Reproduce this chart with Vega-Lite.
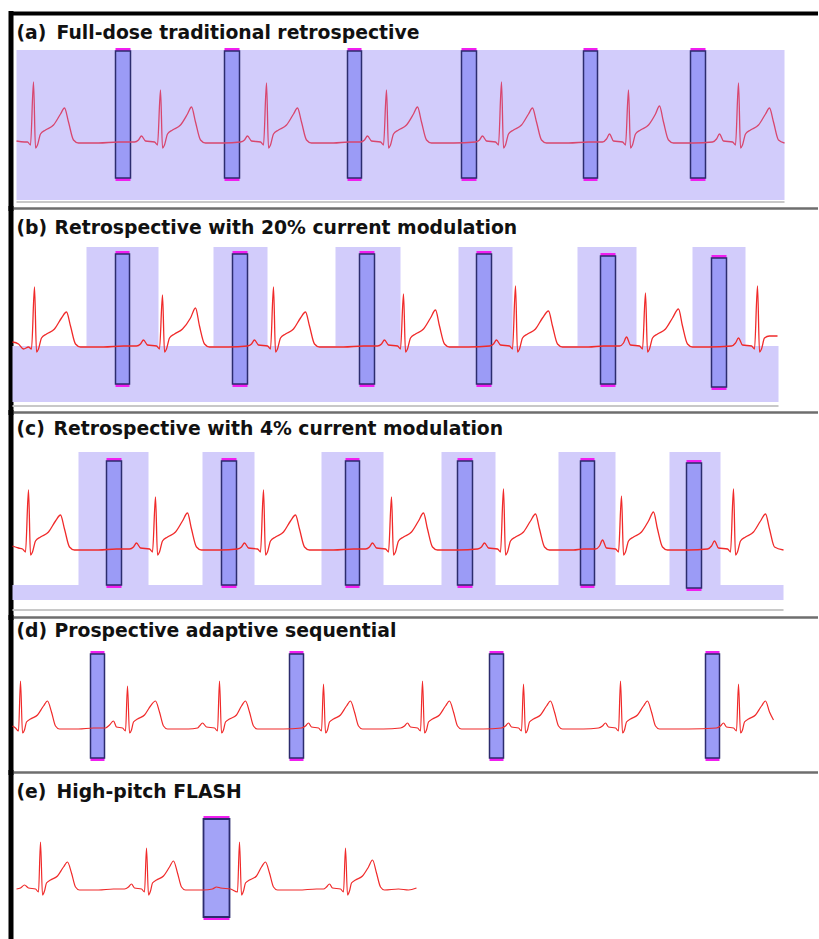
{
"$schema": "https://vega.github.io/schema/vega-lite/v6.json",
"padding": {"left": 9.5, "top": 13, "right": 0, "bottom": 0},
"background": "white",
"spacing": 0,
"bounds": "flush",
"config": {
 "view": {"stroke": null},
 "axis": {"labels": false, "ticks": false, "grid": false, "title": null, "minExtent": 0, "maxExtent": 0, "domainCap": "square"},
 "text": {"font": "DejaVu Sans", "fontWeight": "bold", "fontSize": 18.8, "align": "left", "baseline": "alphabetic", "color": "#111111"}
},
"datasets": {
 "ecgA": [{"t":18,"v":1},{"t":26,"v":0},{"t":29,"v":0},{"t":32,"v":-3},{"t":35,"v":60},{"t":37,"v":-6},{"t":39,"v":-3},{"t":42,"v":8},{"t":47,"v":12},{"t":55,"v":17},{"t":62,"v":28},{"t":66,"v":34},{"t":70,"v":20},{"t":75,"v":2},{"t":80,"v":-1},{"t":100,"v":-1},{"t":120,"v":0},
  {"t":136,"v":0},{"t":140,"v":2},{"t":143,"v":6},{"t":147,"v":1},{"t":156,"v":0},{"t":159,"v":-3},{"t":162,"v":52},{"t":164,"v":-6},{"t":166,"v":-3},{"t":169,"v":8},{"t":174,"v":12},{"t":182,"v":17},{"t":189,"v":28},{"t":193,"v":35},{"t":197,"v":20},{"t":202,"v":2},{"t":207,"v":-1},{"t":225,"v":-1},
  {"t":242,"v":0},{"t":246,"v":2},{"t":249,"v":6},{"t":253,"v":1},{"t":262,"v":0},{"t":265,"v":-3},{"t":268,"v":59},{"t":270,"v":-6},{"t":272,"v":-3},{"t":275,"v":8},{"t":280,"v":12},{"t":288,"v":17},{"t":295,"v":28},{"t":299,"v":34},{"t":303,"v":20},{"t":308,"v":2},{"t":313,"v":-1},{"t":335,"v":-1},{"t":350,"v":0},
  {"t":362,"v":0},{"t":366,"v":2},{"t":369,"v":6},{"t":373,"v":1},{"t":382,"v":0},{"t":385,"v":-3},{"t":388,"v":52},{"t":390,"v":-6},{"t":392,"v":-3},{"t":395,"v":8},{"t":400,"v":12},{"t":408,"v":17},{"t":415,"v":28},{"t":419,"v":35},{"t":423,"v":20},{"t":428,"v":2},{"t":433,"v":-1},{"t":455,"v":-1},
  {"t":477,"v":0},{"t":481,"v":2},{"t":484,"v":6},{"t":488,"v":1},{"t":497,"v":0},{"t":500,"v":-3},{"t":503,"v":60},{"t":505,"v":-6},{"t":507,"v":-3},{"t":510,"v":8},{"t":515,"v":12},{"t":523,"v":17},{"t":530,"v":28},{"t":534,"v":34},{"t":538,"v":20},{"t":543,"v":2},{"t":548,"v":-1},{"t":570,"v":-1},{"t":590,"v":0},
  {"t":604,"v":0},{"t":608,"v":3},{"t":611,"v":8},{"t":615,"v":1},{"t":624,"v":0},{"t":627,"v":-3},{"t":630,"v":52},{"t":632,"v":-6},{"t":634,"v":-3},{"t":637,"v":8},{"t":642,"v":12},{"t":650,"v":17},{"t":657,"v":28},{"t":661,"v":36},{"t":665,"v":20},{"t":670,"v":2},{"t":675,"v":-1},{"t":695,"v":-1},
  {"t":714,"v":0},{"t":718,"v":3},{"t":721,"v":8},{"t":725,"v":1},{"t":734,"v":0},{"t":737,"v":-3},{"t":740,"v":59},{"t":742,"v":-6},{"t":744,"v":-3},{"t":747,"v":8},{"t":752,"v":12},{"t":760,"v":17},{"t":767,"v":28},{"t":771,"v":34},{"t":775,"v":20},{"t":780,"v":2},{"t":786,"v":-1}],
 "shA": [{"t":18,"t2":786,"v":92,"v2":-58}],
 "tlA": [{"t":18,"t2":786}],
 "winA": [{"t":117,"t2":132,"v":91,"v2":-36},{"t":226,"t2":241,"v":91,"v2":-36},{"t":349,"t2":363,"v":91,"v2":-36},{"t":463,"t2":478,"v":91,"v2":-36},{"t":585,"t2":599,"v":91,"v2":-36},{"t":692,"t2":707,"v":91,"v2":-36}],
 "ecgB": [{"t":14,"v":4},{"t":20,"v":2},{"t":25,"v":-3},{"t":30,"v":-1},{"t":33,"v":-3},{"t":36,"v":59},{"t":38,"v":-6},{"t":40,"v":-3},{"t":43,"v":8},{"t":48,"v":12},{"t":56,"v":17},{"t":63,"v":28},{"t":68,"v":34},{"t":72,"v":20},{"t":77,"v":2},{"t":82,"v":-1},{"t":105,"v":-1},{"t":125,"v":0},
  {"t":138,"v":0},{"t":142,"v":2},{"t":145,"v":6},{"t":149,"v":1},{"t":158,"v":0},{"t":161,"v":-3},{"t":164,"v":51},{"t":166,"v":-6},{"t":168,"v":-3},{"t":171,"v":8},{"t":176,"v":12},{"t":184,"v":17},{"t":192,"v":28},{"t":197,"v":38},{"t":201,"v":20},{"t":206,"v":2},{"t":211,"v":-1},{"t":230,"v":-1},
  {"t":249,"v":0},{"t":253,"v":2},{"t":256,"v":6},{"t":260,"v":1},{"t":269,"v":0},{"t":272,"v":-3},{"t":275,"v":59},{"t":277,"v":-6},{"t":279,"v":-3},{"t":282,"v":8},{"t":287,"v":12},{"t":295,"v":17},{"t":302,"v":28},{"t":307,"v":34},{"t":311,"v":20},{"t":316,"v":2},{"t":321,"v":-1},{"t":345,"v":-1},{"t":365,"v":0},
  {"t":379,"v":0},{"t":383,"v":2},{"t":386,"v":6},{"t":390,"v":1},{"t":399,"v":0},{"t":402,"v":-3},{"t":405,"v":52},{"t":407,"v":-6},{"t":409,"v":-3},{"t":412,"v":8},{"t":417,"v":12},{"t":425,"v":17},{"t":432,"v":28},{"t":437,"v":36},{"t":441,"v":20},{"t":446,"v":2},{"t":451,"v":-1},{"t":470,"v":-1},
  {"t":491,"v":0},{"t":495,"v":2},{"t":498,"v":6},{"t":502,"v":1},{"t":511,"v":0},{"t":514,"v":-3},{"t":517,"v":60},{"t":519,"v":-6},{"t":521,"v":-3},{"t":524,"v":8},{"t":529,"v":12},{"t":537,"v":17},{"t":544,"v":28},{"t":550,"v":35},{"t":554,"v":20},{"t":559,"v":2},{"t":564,"v":-1},{"t":590,"v":-1},{"t":605,"v":0},
  {"t":621,"v":0},{"t":625,"v":3},{"t":628,"v":9},{"t":632,"v":1},{"t":641,"v":0},{"t":644,"v":-3},{"t":647,"v":53},{"t":649,"v":-6},{"t":651,"v":-3},{"t":654,"v":8},{"t":659,"v":12},{"t":667,"v":17},{"t":674,"v":28},{"t":680,"v":37},{"t":684,"v":20},{"t":689,"v":2},{"t":694,"v":-1},{"t":710,"v":-1},
  {"t":733,"v":0},{"t":737,"v":3},{"t":740,"v":8},{"t":744,"v":1},{"t":753,"v":0},{"t":756,"v":-3},{"t":759,"v":60},{"t":761,"v":-6},{"t":763,"v":-3},{"t":766,"v":8},{"t":771,"v":10},{"t":779,"v":10}],
 "shB": [{"t":14,"t2":780,"v":0,"v2":-56},{"t":88,"t2":160,"v":99,"v2":-56},{"t":215,"t2":269,"v":99,"v2":-56},{"t":337,"t2":402,"v":99,"v2":-56},{"t":460,"t2":514,"v":99,"v2":-56},{"t":579,"t2":638,"v":99,"v2":-56},{"t":694,"t2":747,"v":99,"v2":-56}],
 "tlB": [{"t":14,"t2":780}],
 "winB": [{"t":117,"t2":131,"v":92,"v2":-38},{"t":234,"t2":249,"v":92,"v2":-38},{"t":361,"t2":376,"v":92,"v2":-38},{"t":478,"t2":493,"v":92,"v2":-38},{"t":602,"t2":617,"v":90,"v2":-38},{"t":713,"t2":728,"v":88,"v2":-41}],
 "ecgC": [{"t":14,"v":3},{"t":20,"v":1},{"t":24,"v":0},{"t":27,"v":-3},{"t":30,"v":59},{"t":32,"v":-6},{"t":34,"v":-3},{"t":37,"v":8},{"t":42,"v":12},{"t":50,"v":17},{"t":57,"v":28},{"t":62,"v":34},{"t":66,"v":20},{"t":71,"v":2},{"t":76,"v":-1},{"t":100,"v":-1},{"t":118,"v":0},
  {"t":131,"v":0},{"t":135,"v":2},{"t":138,"v":6},{"t":142,"v":1},{"t":151,"v":0},{"t":154,"v":-3},{"t":157,"v":52},{"t":159,"v":-6},{"t":161,"v":-3},{"t":164,"v":8},{"t":169,"v":12},{"t":177,"v":17},{"t":184,"v":28},{"t":189,"v":36},{"t":193,"v":20},{"t":198,"v":2},{"t":203,"v":-1},{"t":222,"v":-1},
  {"t":239,"v":0},{"t":243,"v":2},{"t":246,"v":6},{"t":250,"v":1},{"t":259,"v":0},{"t":262,"v":-3},{"t":265,"v":59},{"t":267,"v":-6},{"t":269,"v":-3},{"t":272,"v":8},{"t":277,"v":12},{"t":285,"v":17},{"t":292,"v":28},{"t":297,"v":34},{"t":301,"v":20},{"t":306,"v":2},{"t":311,"v":-1},{"t":335,"v":-1},{"t":355,"v":0},
  {"t":367,"v":0},{"t":371,"v":2},{"t":374,"v":6},{"t":378,"v":1},{"t":387,"v":0},{"t":390,"v":-3},{"t":393,"v":52},{"t":395,"v":-6},{"t":397,"v":-3},{"t":400,"v":8},{"t":405,"v":12},{"t":413,"v":17},{"t":420,"v":28},{"t":425,"v":36},{"t":429,"v":20},{"t":434,"v":2},{"t":439,"v":-1},{"t":460,"v":-1},
  {"t":479,"v":0},{"t":483,"v":2},{"t":486,"v":6},{"t":490,"v":1},{"t":499,"v":0},{"t":502,"v":-3},{"t":505,"v":60},{"t":507,"v":-6},{"t":509,"v":-3},{"t":512,"v":8},{"t":517,"v":12},{"t":525,"v":17},{"t":532,"v":28},{"t":537,"v":35},{"t":541,"v":20},{"t":546,"v":2},{"t":551,"v":-1},{"t":575,"v":-1},{"t":585,"v":0},
  {"t":597,"v":0},{"t":601,"v":3},{"t":604,"v":9},{"t":608,"v":1},{"t":617,"v":0},{"t":620,"v":-3},{"t":623,"v":53},{"t":625,"v":-6},{"t":627,"v":-3},{"t":630,"v":8},{"t":635,"v":12},{"t":643,"v":17},{"t":650,"v":28},{"t":655,"v":37},{"t":659,"v":20},{"t":664,"v":2},{"t":669,"v":-1},{"t":690,"v":-1},
  {"t":709,"v":0},{"t":713,"v":3},{"t":716,"v":8},{"t":720,"v":1},{"t":729,"v":0},{"t":732,"v":-3},{"t":735,"v":60},{"t":737,"v":-6},{"t":739,"v":-3},{"t":742,"v":8},{"t":747,"v":12},{"t":755,"v":17},{"t":762,"v":28},{"t":767,"v":35},{"t":771,"v":20},{"t":776,"v":2},{"t":785,"v":-1}],
 "shC": [{"t":14,"t2":785,"v":-36,"v2":-51},{"t":80,"t2":150,"v":97,"v2":-51},{"t":204,"t2":256,"v":97,"v2":-51},{"t":323,"t2":385,"v":97,"v2":-51},{"t":443,"t2":497,"v":97,"v2":-51},{"t":560,"t2":617,"v":97,"v2":-51},{"t":671,"t2":722,"v":97,"v2":-51}],
 "tlC": [{"t":14,"t2":785}],
 "winC": [{"t":108,"t2":123,"v":88,"v2":-36},{"t":223,"t2":238,"v":88,"v2":-36},{"t":347,"t2":361,"v":88,"v2":-36},{"t":459,"t2":474,"v":88,"v2":-36},{"t":582,"t2":596,"v":88,"v2":-36},{"t":688,"t2":703,"v":86,"v2":-39}],
 "ecgD": [{"t":14,"v":2},{"t":17,"v":0},{"t":20,"v":-3},{"t":22,"v":47},{"t":24,"v":-5},{"t":26,"v":-2},{"t":28,"v":6},{"t":32,"v":9},{"t":39,"v":13},{"t":45,"v":22},{"t":49,"v":27},{"t":53,"v":16},{"t":57,"v":2},{"t":61,"v":-1},{"t":80,"v":-1},{"t":95,"v":0},
  {"t":107,"v":0},{"t":111,"v":3},{"t":115,"v":7},{"t":118,"v":1},{"t":124,"v":0},{"t":127,"v":-3},{"t":129,"v":42},{"t":131,"v":-5},{"t":133,"v":-2},{"t":135,"v":6},{"t":139,"v":9},{"t":146,"v":13},{"t":152,"v":22},{"t":157,"v":27},{"t":161,"v":16},{"t":165,"v":2},{"t":169,"v":-1},{"t":190,"v":-1},
  {"t":199,"v":0},{"t":201,"v":2},{"t":204,"v":5},{"t":208,"v":1},{"t":216,"v":0},{"t":219,"v":-3},{"t":221,"v":47},{"t":223,"v":-5},{"t":225,"v":-2},{"t":227,"v":6},{"t":231,"v":9},{"t":238,"v":13},{"t":243,"v":22},{"t":247,"v":27},{"t":251,"v":16},{"t":255,"v":2},{"t":259,"v":-1},{"t":285,"v":-1},
  {"t":303,"v":0},{"t":307,"v":2},{"t":310,"v":5},{"t":313,"v":1},{"t":320,"v":0},{"t":323,"v":-3},{"t":325,"v":44},{"t":327,"v":-5},{"t":329,"v":-2},{"t":331,"v":6},{"t":335,"v":9},{"t":342,"v":13},{"t":348,"v":22},{"t":352,"v":27},{"t":356,"v":16},{"t":360,"v":2},{"t":364,"v":-1},{"t":385,"v":-1},
  {"t":402,"v":0},{"t":406,"v":2},{"t":409,"v":5},{"t":412,"v":1},{"t":419,"v":0},{"t":422,"v":-3},{"t":424,"v":47},{"t":426,"v":-5},{"t":428,"v":-2},{"t":430,"v":6},{"t":434,"v":9},{"t":441,"v":13},{"t":447,"v":22},{"t":451,"v":27},{"t":455,"v":16},{"t":459,"v":2},{"t":463,"v":-1},{"t":485,"v":-1},
  {"t":503,"v":0},{"t":507,"v":2},{"t":510,"v":5},{"t":513,"v":1},{"t":520,"v":0},{"t":523,"v":-3},{"t":525,"v":44},{"t":527,"v":-5},{"t":529,"v":-2},{"t":531,"v":6},{"t":535,"v":9},{"t":542,"v":13},{"t":548,"v":22},{"t":552,"v":27},{"t":556,"v":16},{"t":560,"v":2},{"t":564,"v":-1},{"t":585,"v":-1},
  {"t":600,"v":0},{"t":604,"v":2},{"t":607,"v":5},{"t":610,"v":1},{"t":617,"v":0},{"t":620,"v":-3},{"t":622,"v":47},{"t":624,"v":-5},{"t":626,"v":-2},{"t":628,"v":6},{"t":632,"v":9},{"t":639,"v":13},{"t":645,"v":22},{"t":649,"v":27},{"t":653,"v":16},{"t":657,"v":2},{"t":661,"v":-1},{"t":690,"v":-1},
  {"t":718,"v":0},{"t":722,"v":2},{"t":725,"v":5},{"t":728,"v":1},{"t":735,"v":0},{"t":738,"v":-3},{"t":740,"v":44},{"t":742,"v":-5},{"t":744,"v":-2},{"t":746,"v":6},{"t":750,"v":9},{"t":757,"v":13},{"t":763,"v":22},{"t":767,"v":27},{"t":771,"v":16},{"t":775,"v":8}],
 "winD": [{"t":92,"t2":106,"v":74,"v2":-30},{"t":291,"t2":305,"v":74,"v2":-30},{"t":491,"t2":505,"v":74,"v2":-30},{"t":707,"t2":721,"v":74,"v2":-30}],
 "ecgE": [{"t":18,"v":0},{"t":22,"v":1},{"t":26,"v":4},{"t":30,"v":1},{"t":37,"v":0},{"t":40,"v":-3},{"t":42,"v":47},{"t":44,"v":-6},{"t":46,"v":-2},{"t":48,"v":6},{"t":52,"v":9},{"t":59,"v":13},{"t":65,"v":22},{"t":69,"v":27},{"t":73,"v":16},{"t":77,"v":2},{"t":81,"v":-1},{"t":100,"v":-1},{"t":115,"v":0},
  {"t":126,"v":0},{"t":130,"v":2},{"t":133,"v":5},{"t":136,"v":1},{"t":143,"v":0},{"t":146,"v":-3},{"t":148,"v":41},{"t":150,"v":-6},{"t":152,"v":-2},{"t":154,"v":6},{"t":158,"v":9},{"t":165,"v":13},{"t":171,"v":22},{"t":175,"v":28},{"t":179,"v":16},{"t":183,"v":2},{"t":187,"v":-1},{"t":205,"v":-1},
  {"t":214,"v":0},{"t":218,"v":2},{"t":222,"v":1},{"t":232,"v":0},{"t":239,"v":-3},{"t":241,"v":47},{"t":243,"v":-6},{"t":245,"v":-2},{"t":247,"v":6},{"t":251,"v":9},{"t":258,"v":13},{"t":263,"v":22},{"t":267,"v":27},{"t":271,"v":16},{"t":275,"v":2},{"t":279,"v":-1},{"t":300,"v":-1},{"t":318,"v":0},
  {"t":325,"v":0},{"t":328,"v":2},{"t":331,"v":5},{"t":334,"v":1},{"t":342,"v":0},{"t":345,"v":-3},{"t":347,"v":41},{"t":349,"v":-6},{"t":351,"v":-2},{"t":353,"v":6},{"t":357,"v":9},{"t":364,"v":13},{"t":370,"v":22},{"t":374,"v":29},{"t":378,"v":16},{"t":382,"v":2},{"t":386,"v":-1},{"t":400,"v":0},{"t":410,"v":-1},{"t":418,"v":1}],
 "winE": [{"t":205,"t2":231,"v":70,"v2":-28}],
 "titles": [{"p":"a","lab":"(a)","txt":"Full-dose traditional retrospective"},{"p":"b","lab":"(b)","txt":"Retrospective with 20% current modulation"},{"p":"c","lab":"(c)","txt":"Retrospective with 4% current modulation"},{"p":"d","lab":"(d)","txt":"Prospective adaptive sequential"},{"p":"e","lab":"(e)","txt":"High-pitch FLASH"}]
},
"vconcat": [
 {"width": 807, "height": 195,
  "layer": [
   {"data": {"name": "shA"}, "mark": {"type": "rect", "color": "#d2ccfb"}, "encoding": {
     "x": {"field": "t", "type": "quantitative", "scale": {"domain": [12, 819]}, "axis": {"orient": "top", "domainColor": "#000000", "domainWidth": 4}}, "x2": {"field": "t2"},
     "y": {"field": "v", "type": "quantitative", "scale": {"domain": [-66, 129]}, "axis": {"orient": "left", "domainColor": "#000000", "domainWidth": 5}}, "y2": {"field": "v2"}}},
   {"data": {"name": "tlA"}, "mark": {"type": "rule", "color": "#c8c8c8", "strokeWidth": 2}, "encoding": {"x": {"field": "t", "type": "quantitative", "scale": {"domain": [12, 819]}}, "x2": {"field": "t2"}, "y": {"datum": -60, "type": "quantitative", "scale": {"domain": [-66, 129]}}}},
   {"data": {"name": "winA"}, "mark": {"type": "rect", "color": "#f01ef0", "yOffset": -3, "y2Offset": 3}, "encoding": {"x": {"field": "t", "type": "quantitative", "scale": {"domain": [12, 819]}}, "x2": {"field": "t2"}, "y": {"field": "v", "type": "quantitative", "scale": {"domain": [-66, 129]}}, "y2": {"field": "v2"}}},
   {"data": {"name": "winA"}, "mark": {"type": "rect", "fill": "#9b9bf6", "stroke": "#2c2c6e", "strokeWidth": 1.5}, "encoding": {"x": {"field": "t", "type": "quantitative", "scale": {"domain": [12, 819]}}, "x2": {"field": "t2"}, "y": {"field": "v", "type": "quantitative", "scale": {"domain": [-66, 129]}}, "y2": {"field": "v2"}}},
   {"data": {"name": "ecgA"}, "mark": {"type": "line", "color": "#d8466e", "strokeWidth": 1.3, "interpolate": "monotone"}, "encoding": {"x": {"field": "t", "type": "quantitative", "scale": {"domain": [12, 819]}}, "y": {"field": "v", "type": "quantitative", "scale": {"domain": [-66, 129]}}}},
   {"data": {"name": "titles"}, "transform": [{"filter": "datum.p == 'a'"}], "mark": {"type": "text"}, "encoding": {"text": {"field": "lab"}, "x": {"datum": 18, "type": "quantitative", "scale": {"domain": [12, 819]}}, "y": {"datum": 103, "type": "quantitative", "scale": {"domain": [-66, 129]}}}},
   {"data": {"name": "titles"}, "transform": [{"filter": "datum.p == 'a'"}], "mark": {"type": "text"}, "encoding": {"text": {"field": "txt"}, "x": {"datum": 58, "type": "quantitative", "scale": {"domain": [12, 819]}}, "y": {"datum": 103, "type": "quantitative", "scale": {"domain": [-66, 129]}}}}
  ]
 },
 {"width": 807, "height": 204,
  "layer": [
   {"data": {"name": "shB"}, "mark": {"type": "rect", "color": "#d2ccfb"}, "encoding": {
     "x": {"field": "t", "type": "quantitative", "scale": {"domain": [12, 819]}, "axis": {"orient": "top", "domainColor": "#6e6e6e", "domainWidth": 2.5}}, "x2": {"field": "t2"},
     "y": {"field": "v", "type": "quantitative", "scale": {"domain": [-66, 138]}, "axis": {"orient": "left", "domainColor": "#000000", "domainWidth": 5}}, "y2": {"field": "v2"}}},
   {"data": {"name": "tlB"}, "mark": {"type": "rule", "color": "#c8c8c8", "strokeWidth": 2}, "encoding": {"x": {"field": "t", "type": "quantitative", "scale": {"domain": [12, 819]}}, "x2": {"field": "t2"}, "y": {"datum": -60, "type": "quantitative", "scale": {"domain": [-66, 138]}}}},
   {"data": {"name": "winB"}, "mark": {"type": "rect", "color": "#f01ef0", "yOffset": -3, "y2Offset": 3}, "encoding": {"x": {"field": "t", "type": "quantitative", "scale": {"domain": [12, 819]}}, "x2": {"field": "t2"}, "y": {"field": "v", "type": "quantitative", "scale": {"domain": [-66, 138]}}, "y2": {"field": "v2"}}},
   {"data": {"name": "winB"}, "mark": {"type": "rect", "fill": "#9b9bf6", "stroke": "#2c2c6e", "strokeWidth": 1.5}, "encoding": {"x": {"field": "t", "type": "quantitative", "scale": {"domain": [12, 819]}}, "x2": {"field": "t2"}, "y": {"field": "v", "type": "quantitative", "scale": {"domain": [-66, 138]}}, "y2": {"field": "v2"}}},
   {"data": {"name": "ecgB"}, "mark": {"type": "line", "color": "#f02a2a", "strokeWidth": 1.3, "interpolate": "monotone"}, "encoding": {"x": {"field": "t", "type": "quantitative", "scale": {"domain": [12, 819]}}, "y": {"field": "v", "type": "quantitative", "scale": {"domain": [-66, 138]}}}},
   {"data": {"name": "titles"}, "transform": [{"filter": "datum.p == 'b'"}], "mark": {"type": "text"}, "encoding": {"text": {"field": "lab"}, "x": {"datum": 18, "type": "quantitative", "scale": {"domain": [12, 819]}}, "y": {"datum": 112, "type": "quantitative", "scale": {"domain": [-66, 138]}}}},
   {"data": {"name": "titles"}, "transform": [{"filter": "datum.p == 'b'"}], "mark": {"type": "text"}, "encoding": {"text": {"field": "txt"}, "x": {"datum": 56, "type": "quantitative", "scale": {"domain": [12, 819]}}, "y": {"datum": 112, "type": "quantitative", "scale": {"domain": [-66, 138]}}}}
  ]
 },
 {"width": 807, "height": 205,
  "layer": [
   {"data": {"name": "shC"}, "mark": {"type": "rect", "color": "#d2ccfb"}, "encoding": {
     "x": {"field": "t", "type": "quantitative", "scale": {"domain": [12, 819]}, "axis": {"orient": "top", "domainColor": "#6e6e6e", "domainWidth": 2.5}}, "x2": {"field": "t2"},
     "y": {"field": "v", "type": "quantitative", "scale": {"domain": [-68, 137]}, "axis": {"orient": "left", "domainColor": "#000000", "domainWidth": 5}}, "y2": {"field": "v2"}}},
   {"data": {"name": "tlC"}, "mark": {"type": "rule", "color": "#c8c8c8", "strokeWidth": 2}, "encoding": {"x": {"field": "t", "type": "quantitative", "scale": {"domain": [12, 819]}}, "x2": {"field": "t2"}, "y": {"datum": -61, "type": "quantitative", "scale": {"domain": [-68, 137]}}}},
   {"data": {"name": "winC"}, "mark": {"type": "rect", "color": "#f01ef0", "yOffset": -3, "y2Offset": 3}, "encoding": {"x": {"field": "t", "type": "quantitative", "scale": {"domain": [12, 819]}}, "x2": {"field": "t2"}, "y": {"field": "v", "type": "quantitative", "scale": {"domain": [-68, 137]}}, "y2": {"field": "v2"}}},
   {"data": {"name": "winC"}, "mark": {"type": "rect", "fill": "#9b9bf6", "stroke": "#2c2c6e", "strokeWidth": 1.5}, "encoding": {"x": {"field": "t", "type": "quantitative", "scale": {"domain": [12, 819]}}, "x2": {"field": "t2"}, "y": {"field": "v", "type": "quantitative", "scale": {"domain": [-68, 137]}}, "y2": {"field": "v2"}}},
   {"data": {"name": "ecgC"}, "mark": {"type": "line", "color": "#f02a2a", "strokeWidth": 1.3, "interpolate": "monotone"}, "encoding": {"x": {"field": "t", "type": "quantitative", "scale": {"domain": [12, 819]}}, "y": {"field": "v", "type": "quantitative", "scale": {"domain": [-68, 137]}}}},
   {"data": {"name": "titles"}, "transform": [{"filter": "datum.p == 'c'"}], "mark": {"type": "text"}, "encoding": {"text": {"field": "lab"}, "x": {"datum": 18, "type": "quantitative", "scale": {"domain": [12, 819]}}, "y": {"datum": 114, "type": "quantitative", "scale": {"domain": [-68, 137]}}}},
   {"data": {"name": "titles"}, "transform": [{"filter": "datum.p == 'c'"}], "mark": {"type": "text"}, "encoding": {"text": {"field": "txt"}, "x": {"datum": 55, "type": "quantitative", "scale": {"domain": [12, 819]}}, "y": {"datum": 114, "type": "quantitative", "scale": {"domain": [-68, 137]}}}}
  ]
 },
 {"width": 807, "height": 155,
  "layer": [
   {"data": {"name": "winD"}, "mark": {"type": "rect", "color": "#f01ef0", "yOffset": -3, "y2Offset": 3}, "encoding": {
     "x": {"field": "t", "type": "quantitative", "scale": {"domain": [12, 819]}, "axis": {"orient": "top", "domainColor": "#6e6e6e", "domainWidth": 2.5}}, "x2": {"field": "t2"},
     "y": {"field": "v", "type": "quantitative", "scale": {"domain": [-44, 111]}, "axis": {"orient": "left", "domainColor": "#000000", "domainWidth": 5}}, "y2": {"field": "v2"}}},
   {"data": {"name": "winD"}, "mark": {"type": "rect", "fill": "#9b9bf6", "stroke": "#2c2c6e", "strokeWidth": 1.5}, "encoding": {"x": {"field": "t", "type": "quantitative", "scale": {"domain": [12, 819]}}, "x2": {"field": "t2"}, "y": {"field": "v", "type": "quantitative", "scale": {"domain": [-44, 111]}}, "y2": {"field": "v2"}}},
   {"data": {"name": "ecgD"}, "mark": {"type": "line", "color": "#f02a2a", "strokeWidth": 1.2, "interpolate": "monotone"}, "encoding": {"x": {"field": "t", "type": "quantitative", "scale": {"domain": [12, 819]}}, "y": {"field": "v", "type": "quantitative", "scale": {"domain": [-44, 111]}}}},
   {"data": {"name": "titles"}, "transform": [{"filter": "datum.p == 'd'"}], "mark": {"type": "text"}, "encoding": {"text": {"field": "lab"}, "x": {"datum": 18, "type": "quantitative", "scale": {"domain": [12, 819]}}, "y": {"datum": 91, "type": "quantitative", "scale": {"domain": [-44, 111]}}}},
   {"data": {"name": "titles"}, "transform": [{"filter": "datum.p == 'd'"}], "mark": {"type": "text"}, "encoding": {"text": {"field": "txt"}, "x": {"datum": 56, "type": "quantitative", "scale": {"domain": [12, 819]}}, "y": {"datum": 91, "type": "quantitative", "scale": {"domain": [-44, 111]}}}}
  ]
 },
 {"width": 807, "height": 167,
  "layer": [
   {"data": {"name": "winE"}, "mark": {"type": "rect", "color": "#f01ef0", "yOffset": -3, "y2Offset": 3}, "encoding": {
     "x": {"field": "t", "type": "quantitative", "scale": {"domain": [12, 819]}, "axis": {"orient": "top", "domainColor": "#6e6e6e", "domainWidth": 2.5}}, "x2": {"field": "t2"},
     "y": {"field": "v", "type": "quantitative", "scale": {"domain": [-50, 117]}, "axis": {"orient": "left", "domainColor": "#000000", "domainWidth": 5}}, "y2": {"field": "v2"}}},
   {"data": {"name": "winE"}, "mark": {"type": "rect", "fill": "#a3a3f7", "stroke": "#2c2c6e", "strokeWidth": 1.8}, "encoding": {"x": {"field": "t", "type": "quantitative", "scale": {"domain": [12, 819]}}, "x2": {"field": "t2"}, "y": {"field": "v", "type": "quantitative", "scale": {"domain": [-50, 117]}}, "y2": {"field": "v2"}}},
   {"data": {"name": "ecgE"}, "mark": {"type": "line", "color": "#f02a2a", "strokeWidth": 1.2, "interpolate": "monotone"}, "encoding": {"x": {"field": "t", "type": "quantitative", "scale": {"domain": [12, 819]}}, "y": {"field": "v", "type": "quantitative", "scale": {"domain": [-50, 117]}}}},
   {"data": {"name": "titles"}, "transform": [{"filter": "datum.p == 'e'"}], "mark": {"type": "text"}, "encoding": {"text": {"field": "lab"}, "x": {"datum": 18, "type": "quantitative", "scale": {"domain": [12, 819]}}, "y": {"datum": 91, "type": "quantitative", "scale": {"domain": [-50, 117]}}}},
   {"data": {"name": "titles"}, "transform": [{"filter": "datum.p == 'e'"}], "mark": {"type": "text"}, "encoding": {"text": {"field": "txt"}, "x": {"datum": 58, "type": "quantitative", "scale": {"domain": [12, 819]}}, "y": {"datum": 91, "type": "quantitative", "scale": {"domain": [-50, 117]}}}}
  ]
 }
]
}
